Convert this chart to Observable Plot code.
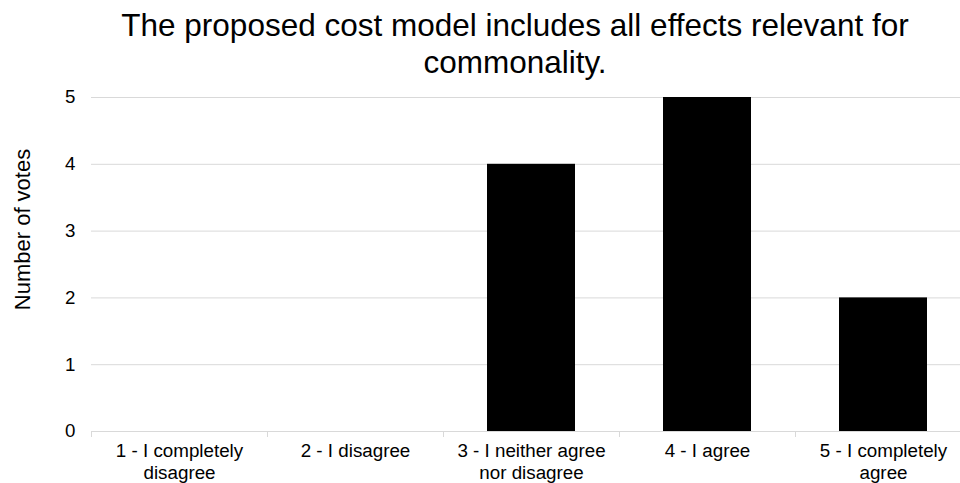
<!DOCTYPE html>
<html>
<head>
<meta charset="utf-8">
<script src="https://cdn.jsdelivr.net/npm/d3@7"></script>
<script src="https://cdn.jsdelivr.net/npm/@observablehq/plot@0.6"></script>
<style>
  html, body { margin: 0; padding: 0; background: #fff; }
  body { width: 960px; height: 483px; overflow: hidden; font-family: "Liberation Sans", Arial, sans-serif; }
  #title { width: 1030px; height: 78px; padding-top: 7px; text-align: center; font-size: 31.5px; line-height: 37px; color: #000; }
  #chart svg { display: block; }
</style>
</head>
<body>
<div id="title">The proposed cost model includes all effects relevant for<br>commonality.</div>
<div id="chart"></div>
<script>
const categories = ["1", "2", "3", "4", "5"];
const votes = [0, 0, 4, 5, 2];
const tickLabels = [
  "1 - I completely\ndisagree",
  "2 - I disagree",
  "3 - I neither agree\nnor disagree",
  "4 - I agree",
  "5 - I completely\nagree"
];
const yTicks = [0, 1, 2, 3, 4, 5];
const yLabel = "Number of votes";

const data = categories.map((c, i) => ({category: c, votes: votes[i]}));
const labelOf = new Map(categories.map((c, i) => [c, tickLabels[i]]));

const width = 960, height = 398;
const marginLeft = 91, marginRight = -11, marginTop = 12, marginBottom = 52;
const step = (width - marginRight - marginLeft) / categories.length;
const font = "Liberation Sans, Arial, sans-serif";

const chart = Plot.plot({
  width, height, marginLeft, marginRight, marginTop, marginBottom,
  style: {fontFamily: font, color: "#000", background: "#fff"},
  x: {domain: categories, paddingInner: 0.5, paddingOuter: 0.25, label: null},
  y: {domain: [0, 5], label: null},
  marks: [
    Plot.ruleY(yTicks, {stroke: "#d9d9d9", strokeWidth: 1}),
    Plot.ruleX(categories, {x: d => d, y1: d => 0, y2: d => 0, insetBottom: -6, dx: -step / 2, stroke: "#d9d9d9", strokeWidth: 1}),
    Plot.barY(data, {x: "category", y: "votes", fill: "#000"}),
    Plot.axisY({ticks: yTicks, tickSize: 0, tickPadding: 16, fontSize: 18.7, fill: "#000", tickFormat: d => String(d), label: null}),
    Plot.axisX({tickSize: 0, tickPadding: 11, fontSize: 18.8, lineHeight: 1.12, fill: "#000", tickFormat: d => labelOf.get(d), label: null}),
    Plot.text([yLabel], {text: d => d, frameAnchor: "left", textAnchor: "middle", lineAnchor: "middle", rotate: -90, dx: -69, dy: -35, fontSize: 22, fill: "#000"})
  ]
});
document.getElementById("chart").appendChild(chart);
</script>
</body>
</html>
